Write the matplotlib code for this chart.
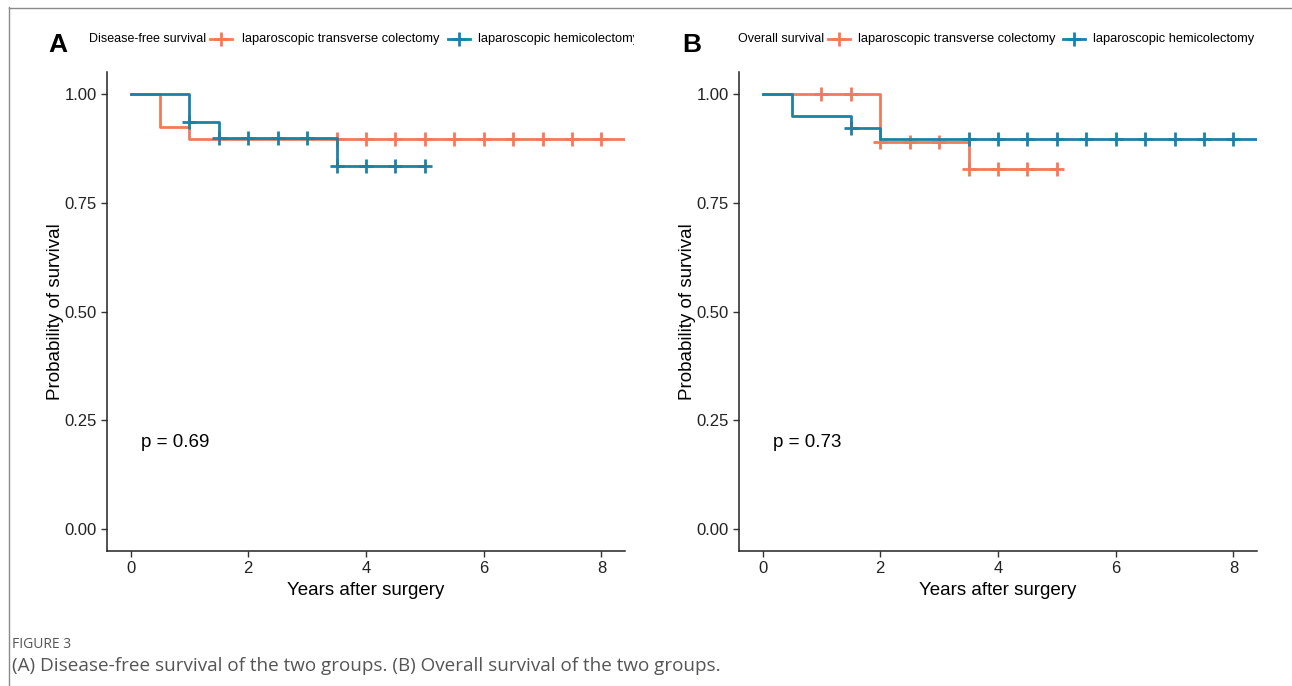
import matplotlib
matplotlib.use('Agg')
import matplotlib.pyplot as plt
from matplotlib.lines import Line2D

plt.rcParams['font.family'] = ['Liberation Sans', 'DejaVu Sans']

ORANGE = '#F4795B'
BLUE = '#1A82A6'

# Panel A: disease-free survival
dfs_tc_t = [0, 0.5, 1.0, 8.4]
dfs_tc_s = [1.0, 0.923, 0.897, 0.897]
dfs_tc_cens_t = [3.5, 4.0, 4.5, 5.0, 5.5, 6.0, 6.5, 7.0, 7.5, 8.0]
dfs_tc_cens_s = [0.897] * 10

dfs_hc_t = [0, 1.0, 1.5, 3.5, 5.0]
dfs_hc_s = [1.0, 0.935, 0.899, 0.835, 0.835]
dfs_hc_cens_t = [1.0, 1.5, 2.0, 2.5, 3.0, 3.5, 4.0, 4.5, 5.0]
dfs_hc_cens_s = [0.935, 0.899, 0.899, 0.899, 0.899, 0.835, 0.835, 0.835, 0.835]

# Panel B: overall survival
os_tc_t = [0, 2.0, 3.5, 5.0]
os_tc_s = [1.0, 0.889, 0.828, 0.828]
os_tc_cens_t = [1.0, 1.5, 2.0, 2.5, 3.0, 3.5, 4.0, 4.5, 5.0]
os_tc_cens_s = [1.0, 1.0, 0.889, 0.889, 0.889, 0.828, 0.828, 0.828, 0.828]

os_hc_t = [0, 0.5, 1.5, 2.0, 8.4]
os_hc_s = [1.0, 0.950, 0.922, 0.895, 0.895]
os_hc_cens_t = [1.5, 3.5, 4.0, 4.5, 5.0, 5.5, 6.0, 6.5, 7.0, 7.5, 8.0]
os_hc_cens_s = [0.922] + [0.895] * 10

p_values = ['p = 0.69', 'p = 0.73']
legend_titles = ['Disease-free survival', 'Overall survival']
groups = ['laparoscopic transverse colectomy', 'laparoscopic hemicolectomy']

W, H = 1292, 686
fig = plt.figure(figsize=(12.92, 6.86), dpi=100)


def fx(px):
    return px / W


def fy(py):
    return 1 - py / H


panels = [
    (107, 'A', [(dfs_tc_t, dfs_tc_s, dfs_tc_cens_t, dfs_tc_cens_s, ORANGE),
                (dfs_hc_t, dfs_hc_s, dfs_hc_cens_t, dfs_hc_cens_s, BLUE)],
     [89, 210, 242, 448, 478], 634),
    (739, 'B', [(os_tc_t, os_tc_s, os_tc_cens_t, os_tc_cens_s, ORANGE),
                (os_hc_t, os_hc_s, os_hc_cens_t, os_hc_cens_s, BLUE)],
     [738, 828, 858, 1063, 1093], 1285),
]

for i, (left, letter, series, legx, clipx) in enumerate(panels):
    ax = fig.add_axes([fx(left), fy(551), fx(518), 479 / H])
    for t, s, ct, cs, c in series:
        ax.step(t, s, where='post', color=c, lw=2)
        ax.plot(ct, cs, ls='none', marker='+', ms=10, mew=2, color=c)
    ax.set_xlim(-0.4, 8.4)
    ax.set_ylim(-0.05, 1.05)
    ax.set_xticks([0, 2, 4, 6, 8])
    ax.set_yticks([0, 0.25, 0.5, 0.75, 1.0])
    ax.set_yticklabels(['0.00', '0.25', '0.50', '0.75', '1.00'])
    for sp in ['top', 'right']:
        ax.spines[sp].set_visible(False)
    for sp in ['left', 'bottom']:
        ax.spines[sp].set_color('#222222')
        ax.spines[sp].set_linewidth(1.1)
    ax.tick_params(direction='out', length=4, width=1, color='#333333',
                   labelsize=12, labelcolor='#222222')
    ax.set_xlabel('Years after surgery', fontsize=13.5, labelpad=4)
    ax.set_ylabel('Probability of survival', fontsize=13.5, labelpad=0)
    ax.text(0.17, 0.2, p_values[i], fontsize=13.5, va='center', ha='left')

    # panel letter
    fig.text(fx(left - 59 if i == 0 else left - 57), fy(45), letter,
             fontsize=19, fontweight='bold', va='center', ha='left')

    # legend strip (clipped like the original)
    lg = fig.add_axes([fx(legx[0] - 2), fy(52), fx(clipx - legx[0] + 2), 26 / H])
    lg.set_axis_off()
    lg.set_xlim(0, 1)
    lg.set_ylim(0, 1)
    tf = fig.transFigure
    lg.text(fx(legx[0]), fy(39), legend_titles[i], transform=tf, fontsize=9,
            va='center', ha='left', clip_on=True)
    for k, c in enumerate([ORANGE, BLUE]):
        x0 = legx[1 + 2 * k]
        lg.add_line(Line2D([fx(x0), fx(x0 + 22)], [fy(39), fy(39)], transform=tf,
                           color=c, lw=2))
        lg.add_line(Line2D([fx(x0 + 11)], [fy(39)], transform=tf, color=c,
                           marker='+', ms=10, mew=2, ls='none'))
        lg.text(fx(legx[2 + 2 * k]), fy(39), groups[k], transform=tf, fontsize=9.3,
                va='center', ha='left', clip_on=True)

# frame lines of the figure box
fig.add_artist(Line2D([fx(8.5), fx(8.5)], [fy(7), 0], color='#8a8a8a', lw=1))
fig.add_artist(Line2D([fx(8.5), 1], [fy(7.5), fy(7.5)], color='#8a8a8a', lw=1))

# caption
fig.text(fx(12), fy(645), 'FIGURE 3', fontsize=10, color='#555555',
         family='Open Sans', va='center', ha='left')
fig.text(fx(12), fy(666),
         '(A) Disease-free survival of the two groups. (B) Overall survival of the two groups.',
         fontsize=13.6, color='#555555', family='Open Sans', va='center', ha='left')

fig.savefig('out.png', dpi=100)
